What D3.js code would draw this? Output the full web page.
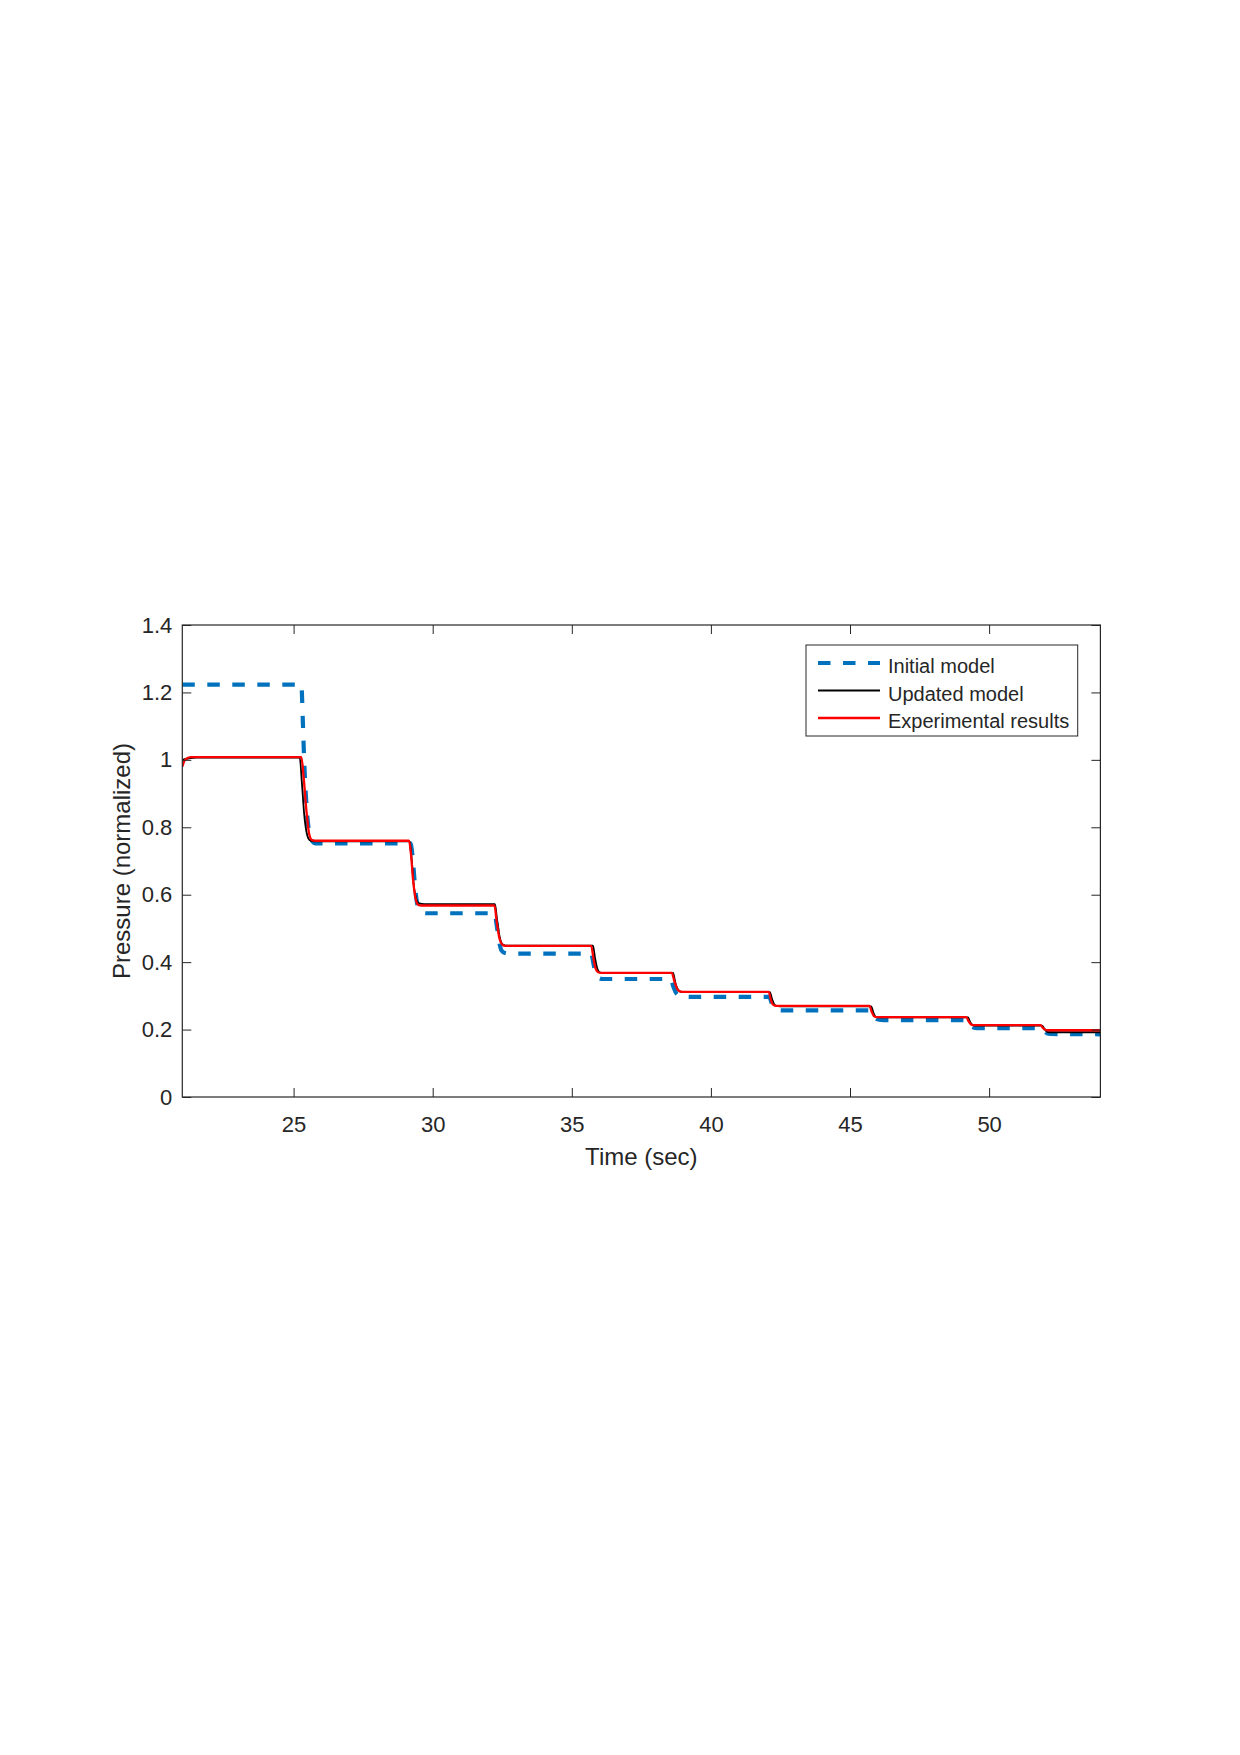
<!DOCTYPE html>
<html>
<head>
<meta charset="utf-8">
<script src="https://cdn.jsdelivr.net/npm/d3@7"></script>
<style>
  html, body { margin: 0; padding: 0; background: #ffffff; }
  svg { display: block; }
  text { font-family: "Liberation Sans", Arial, Helvetica, sans-serif; fill: #262626; }
</style>
</head>
<body>
<script>
// ---------- data ----------
const xTicks = [25, 30, 35, 40, 45, 50];
const yTicks = [0, 0.2, 0.4, 0.6, 0.8, 1, 1.2, 1.4];
const yTickLabels = ["0", "0.2", "0.4", "0.6", "0.8", "1", "1.2", "1.4"];
const xDomain = [21, 54];
const yDomain = [0, 1.4];

const seriesNames = ["Initial model", "Updated model", "Experimental results"];

// Initial model (blue dashed)
const initialT = [21.0, 25.28, 25.33, 25.38, 25.46, 25.55, 25.66, 25.8,
  29.2, 29.28, 29.36, 29.45, 29.56, 29.75,
  32.22, 32.3, 32.38, 32.47, 32.6, 32.8,
  35.7, 35.78, 35.86, 35.95, 36.1,
  38.56, 38.64, 38.74, 38.86, 39.0,
  42.1, 42.18, 42.28, 42.4, 42.55,
  45.74, 45.82, 45.92, 46.05, 46.2,
  49.2, 49.28, 49.38, 49.5, 49.65,
  51.9, 51.98, 52.08, 52.2, 54.0];
const initialP = [1.223, 1.223, 1.12, 1.0, 0.87, 0.79, 0.76, 0.752,
  0.752, 0.71, 0.63, 0.57, 0.549, 0.545,
  0.545, 0.51, 0.465, 0.435, 0.427, 0.425,
  0.425, 0.395, 0.365, 0.354, 0.350,
  0.350, 0.33, 0.31, 0.300, 0.297,
  0.297, 0.28, 0.264, 0.258, 0.257,
  0.257, 0.245, 0.233, 0.229, 0.228,
  0.228, 0.218, 0.208, 0.205, 0.204,
  0.204, 0.196, 0.189, 0.187, 0.186];

// Updated model (black solid)
const updatedT = [21.0, 21.5, 25.22, 25.3, 25.38, 25.48, 25.58, 25.75,
  29.17, 29.25, 29.33, 29.42, 29.52, 29.7,
  32.24, 32.32, 32.42, 32.52, 32.65,
  35.76, 35.84, 35.92, 36.0, 36.12,
  38.64, 38.72, 38.82, 38.92, 39.05,
  42.12, 42.2, 42.28, 42.36, 42.48,
  45.76, 45.84, 45.92, 46.02,
  49.24, 49.32, 49.4, 49.5,
  51.9, 51.98, 52.06, 52.16, 54.0];
const updatedP = [1.0, 1.007, 1.007, 0.93, 0.84, 0.78, 0.762, 0.758,
  0.758, 0.70, 0.62, 0.585, 0.574, 0.572,
  0.572, 0.52, 0.47, 0.452, 0.449,
  0.449, 0.41, 0.38, 0.370, 0.368,
  0.368, 0.34, 0.318, 0.312, 0.311,
  0.311, 0.29, 0.274, 0.270, 0.269,
  0.269, 0.25, 0.238, 0.236,
  0.236, 0.222, 0.214, 0.212,
  0.212, 0.203, 0.195, 0.192, 0.192];

// Experimental results (red solid)
const expT = [21.0, 21.1, 21.3, 25.28, 25.36, 25.46, 25.56, 25.66, 25.8,
  29.15, 29.22, 29.3, 29.38, 29.48, 29.6,
  32.22, 32.3, 32.4, 32.5, 32.6,
  35.7, 35.78, 35.86, 35.95, 36.05,
  38.6, 38.68, 38.78, 38.88, 38.98,
  42.08, 42.15, 42.22, 42.3, 42.4,
  45.7, 45.78, 45.86, 45.95,
  49.18, 49.26, 49.34, 49.42,
  51.85, 51.93, 52.0, 52.1, 54.0];
const expP = [0.98, 1.0, 1.008, 1.008, 0.95, 0.85, 0.78, 0.762, 0.760,
  0.760, 0.72, 0.64, 0.59, 0.570, 0.568,
  0.568, 0.52, 0.47, 0.452, 0.448,
  0.448, 0.41, 0.38, 0.370, 0.368,
  0.368, 0.345, 0.322, 0.313, 0.312,
  0.312, 0.29, 0.275, 0.271, 0.270,
  0.270, 0.253, 0.240, 0.237,
  0.237, 0.225, 0.216, 0.213,
  0.213, 0.205, 0.200, 0.198, 0.198];

// ---------- layout ----------
const W = 1240, H = 1755;
const plot = { left: 182.3, right: 1100.4, top: 625, bottom: 1097 };
const axisColor = "#262626";

const svg = d3.select("body").append("svg")
  .attr("width", W).attr("height", H)
  .style("background", "#ffffff");

const x = d3.scaleLinear().domain(xDomain).range([plot.left, plot.right]);
const y = d3.scaleLinear().domain(yDomain).range([plot.bottom, plot.top]);

// clip
svg.append("defs").append("clipPath").attr("id", "clip")
  .append("rect")
  .attr("x", plot.left).attr("y", plot.top)
  .attr("width", plot.right - plot.left).attr("height", plot.bottom - plot.top);

// ---------- lines ----------
const zip = (ts, ps) => ts.map((t, i) => [t, ps[i]]);
const line = d3.line().x(d => x(d[0])).y(d => y(d[1])).curve(d3.curveMonotoneX);

const gLines = svg.append("g").attr("clip-path", "url(#clip)");
gLines.append("path").datum(zip(initialT, initialP))
  .attr("d", line).attr("fill", "none")
  .attr("stroke", "#0072BD").attr("stroke-width", 4.2)
  .attr("stroke-dasharray", "12.5,12.5");
gLines.append("path").datum(zip(updatedT, updatedP))
  .attr("d", line).attr("fill", "none")
  .attr("stroke", "#000000").attr("stroke-width", 1.8);
gLines.append("path").datum(zip(expT, expP))
  .attr("d", line).attr("fill", "none")
  .attr("stroke", "#ff0000").attr("stroke-width", 2.3);

// ---------- axes ----------
function styleAxis(g) {
  g.select(".domain").remove();
  g.selectAll(".tick line").attr("stroke", axisColor).attr("stroke-width", 1);
  g.selectAll(".tick text").attr("fill", axisColor)
    .style("font-family", '"Liberation Sans", Arial, sans-serif')
    .style("font-size", "22px");
}

svg.append("g").attr("transform", `translate(0,${plot.bottom})`)
  .call(d3.axisBottom(x).tickValues(xTicks).tickSizeInner(-9).tickSizeOuter(0).tickPadding(19)
    .tickFormat(d3.format("d")))
  .call(styleAxis);
svg.append("g").attr("transform", `translate(0,${plot.top})`)
  .call(d3.axisTop(x).tickValues(xTicks).tickSizeInner(-9).tickSizeOuter(0).tickFormat(""))
  .call(styleAxis);
svg.append("g").attr("transform", `translate(${plot.left},0)`)
  .call(d3.axisLeft(y).tickValues(yTicks).tickSizeInner(-9).tickSizeOuter(0).tickPadding(10)
    .tickFormat((d, i) => yTickLabels[i]))
  .call(styleAxis);
svg.append("g").attr("transform", `translate(${plot.right},0)`)
  .call(d3.axisRight(y).tickValues(yTicks).tickSizeInner(-9).tickSizeOuter(0).tickFormat(""))
  .call(styleAxis);

// box
svg.append("rect")
  .attr("x", plot.left).attr("y", plot.top)
  .attr("width", plot.right - plot.left).attr("height", plot.bottom - plot.top)
  .attr("fill", "none").attr("stroke", axisColor).attr("stroke-width", 1.2);

// axis labels
svg.append("text")
  .attr("x", (plot.left + plot.right) / 2).attr("y", 1165)
  .attr("text-anchor", "middle").style("font-size", "24px")
  .text("Time (sec)");
svg.append("text")
  .attr("transform", `translate(130,${(plot.top + plot.bottom) / 2}) rotate(-90)`)
  .attr("text-anchor", "middle").style("font-size", "24px")
  .text("Pressure (normalized)");

// ---------- legend ----------
const leg = { x: 806, y: 645, w: 271.7, h: 91 };
const legG = svg.append("g");
legG.append("rect").attr("x", leg.x).attr("y", leg.y).attr("width", leg.w).attr("height", leg.h)
  .attr("fill", "#ffffff").attr("stroke", axisColor).attr("stroke-width", 1);
const legendStyles = [
  { color: "#0072BD", width: 4.2, dash: "12.5,12.5" },
  { color: "#000000", width: 1.8, dash: null },
  { color: "#ff0000", width: 2.3, dash: null }
];
const legLineY = [663, 690.5, 718];
const legTextY = [673, 700.5, 727.5];
seriesNames.forEach((name, i) => {
  const s = legendStyles[i];
  const l = legG.append("line")
    .attr("x1", 818).attr("x2", 880)
    .attr("y1", legLineY[i]).attr("y2", legLineY[i])
    .attr("stroke", s.color).attr("stroke-width", s.width);
  if (s.dash) l.attr("stroke-dasharray", s.dash);
  legG.append("text").attr("x", 888).attr("y", legTextY[i])
    .style("font-size", "20px").attr("fill", "#000000").text(name);
});
</script>
</body>
</html>
